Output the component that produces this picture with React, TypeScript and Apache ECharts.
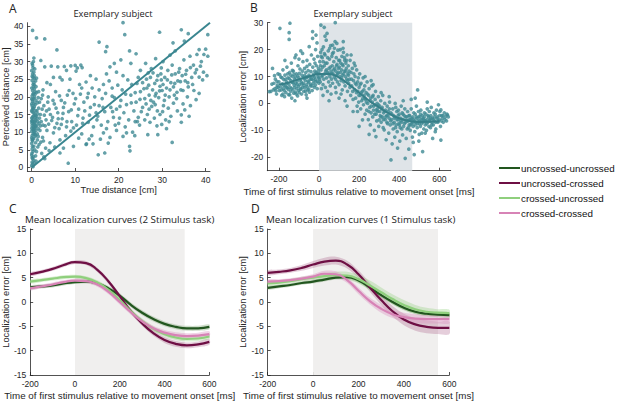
import React, { useEffect, useRef } from "react";
import * as echarts from "echarts";

// ---------- Panel A: perceived vs true distance (exemplary subject) ----------
const A_POINTS: number[][] = [
  [0,0.5],[0.1,1.5],[0.2,2.5],[0,3.5],[0.3,4.5],[0.1,5.2],[0.5,6],[0,6.8],[0.2,7.5],[0.4,8.2],[0.1,9],[0.6,9.6],[0,10.2],[0.3,10.8],[0.8,11.3],[0.1,11.8],[0.5,12.3],[0.2,12.9],[0.9,13.4],[0,14],[0.4,14.6],[0.7,15.2],[0.1,15.8],[0.3,16.5],[0.6,17.2],[0,18],[0.2,18.7],[0.5,19.5],[0.1,20.3],[0.4,21],[0.2,21.8],[0,22.5],[0.3,23.5],[0.1,24.6],[0.6,25.2],[0.2,26.5],[0,27.4],[0.3,28.3],[0.1,29.5],[0.5,31],[0.2,38.8],[0.8,8.8],[1.0,10.5],[1.2,12],[0.9,7],[1.1,14.5],[0.7,5],[1.3,9.5],[0.4,3],[1.5,11],[0.8,17.8],[1.0,19],[1.4,13],[0.6,22.3],[1.2,16],[0.9,24.5],[0.2,1],[0.5,2],[0.1,7.8],[0.3,13.7],[0.6,10],[0.4,11.5],[0.2,16.9],[0.7,12.7],[0.8,14.2],[1.6,21.5],[1.8,18.5],[1.1,25.3],[2,15],[2.2,13],[1.9,10.5],[2.5,8.5],[2.3,4],[2.8,3],[3,2.5],[3.2,5.5],[2.6,22],[2.1,30.3],[1.1,36.7],[3,36.4],
  [0.05,4],[0.15,6],[0.25,8],[0.35,9.5],[0.45,10.5],[0.55,11],[0.65,12],[0.75,13],[0.85,14.8],[0.95,16],[0.05,12.5],[0.15,13.2],[0.25,14.3],[0.35,15.6],[0.45,16.7],[0.55,18.2],[0.65,19.9],[0.75,20.7],[0.85,9.2],[0.95,11.7],[0.1,17.5],[0.2,19.2],[0.3,20.8],[0.4,22.8],[0.5,24],[0.6,26],[0.7,27.9],[0.2,29],[0.4,30],[0.1,25.8],[1.3,7.8],[1.5,8.8],[1.7,12.5],[1.2,13.8],[1.4,15.2],[1.6,16.8],[1.3,18.3],[1.5,19.8],[1.1,21.2],[1.0,22.9],[1.8,14],[2.0,11.8],[2.4,16.5],[2.2,19.5],[2.6,12],[2.9,14.8],[3.1,11.8],[3.4,16],[3.7,18.5],[3.9,12.3],[4.3,15],[4.6,13.3],[4.9,19],[5.3,11.3],[5.6,16.8],[6.1,13.8],[6.4,20.3],[6.8,12.2],[7.2,15.3],[7.6,18.3],[8.1,13],[8.6,21.8],[9.1,16.3],[9.6,11.2],[10.1,19.5],[10.6,14.7],[11.2,20.8],[11.7,12.5],[12.2,16],[12.8,19.8],[13.3,14.8],[13.9,22.5],[14.4,17.8],[0.3,0.2],[0.6,1.2],[0.9,3.3],[1.1,4.5],[1.4,5.8],[1.7,6.5],[2.1,7.2],[0.1,2.8],[1.0,1.8],[0.5,27],[0.3,25.5],[0.8,21.5],[0.6,23.4],[0.0,19.4],[0.0,16.1],[0.0,13.1],[0.0,8.4],[0.0,11.1],
  [3,28.5],[4.5,28.7],[6,28.5],[7.5,28.6],[9,28.8],[10,28.9],[10.5,28.2],[11.3,29],[11.6,28.3],[10.2,27.3],[8,27.5],[5,25.5],[6.5,25.5],[3.5,24],[4.3,23.5],[7,24.8],[8.8,25],[11,23.5],[12.5,24.2],[2.5,20.5],[3.8,20],[5.5,21.5],[6.8,19],[8.2,20.5],[9.5,21],[11.5,22.5],[13,21],[14.5,20],[2.8,17.5],[4,16.5],[5.2,18],[6,15.5],[7.3,17],[8.5,15.8],[9.8,18],[10.8,16.5],[12,18.5],[13.5,17],[14.8,15.5],[3.3,13.5],[4.8,14.2],[5.8,12.5],[7,13.8],[8,11.5],[9.2,13],[10.3,12],[11.8,14],[13,12.8],[14.2,11.5],[3.5,10.5],[5,9.8],[6.3,11],[7.8,9],[9,10.3],[2.7,7.5],[4.2,7],[6.5,7.8],[12.5,6.5],[11.5,9.5],[13.8,9],[15,13.5],[15.5,17.5],[5.8,33.3],[13.5,26],[14.8,25],[15.5,22],[16.2,19.5],[17,21],[16.5,23.5],[17.8,24.5],[18.5,22.5],[17.2,26.5],[18,28.5],[19,29.5],[20.5,30.5],[19.5,27],[21,26],[15.5,35.5],[17.3,34.2],[17,32.8],[21,41],[21.4,37.6],[22.5,33],[24,32.2],[22.8,29.5],
  [15.2,14.5],[16,12],[16.8,15.8],[17.5,13],[18.2,17],[18.8,14.2],[19.5,16.5],[20,12.5],[20.5,19],[21.2,15.5],[21.8,17.8],[22.3,13.5],[22.8,20.5],[23.5,16],[24,18.5],[24.5,14.2],[25,21.5],[25.5,17],[19,19.8],[20.8,22],[23,23.5],[16.5,9.8],[18,8.5],[19.5,10.5],[21.5,11.5],[23.2,10],[24.8,12],[17.6,6.9],[16.8,4.1],[15.3,3.6],[14.1,6.7],[12.6,6.7],[8.4,1.2],[6.5,4.1],[22.5,6],[21,8.8],[23.7,9],[26.7,9.3],[29,9.3],[32.3,7.1],[22.6,4.7],
  [25.5,24],[26,19.5],[26.5,22.5],[27,20.5],[27.3,25.5],[27.8,22],[28,18.5],[28.3,23.8],[28.6,21],[29,26],[29.2,19.8],[29.5,23],[29.8,24.8],[30,21.8],[30.3,17.5],[30.6,25.5],[31,22.5],[31.3,27.5],[31.6,20],[32,24],[32.3,29],[32.6,22.8],[33,26.5],[33.3,19.5],[33.6,24.5],[34,28],[34.3,22],[34.6,26],[35,30.5],[35.3,24.5],[35.6,27.5],[36,22.8],[36.4,31.5],[36.8,25.5],[37.2,29],[37.6,26.8],[38,32],[38.5,25.6],[38.5,21],[39,30],[39.5,27],[40,33.5],[40.5,31.5],[40.5,37.6],[36,37.9],[34.4,39],[29.4,38.3],[32.5,35.3],[35.1,35.8],[38.5,33.4],[34.4,14.9],[34.4,12.8],[33.5,16],[32,14.5],[30.8,13.5],[29.5,15],[28.2,14],[27,16.5],[26,13.5],[25.2,15.8],[31,11],[28.8,11.8],[27.5,28],[26.8,26.8],[30.2,30],[31.8,31.8],[33,33],[25,27.5],[24.5,25.5],[26.2,29.5],[28.5,30.8],[29.8,28.2],[32.8,20.5],[35.8,20],[37,23.5],[39.3,24.8],[34.8,18],[36.5,17.5],[30.5,19],[27.6,17.3],[26.3,18],[28.9,16],[31.4,16.8],
  [18.5,20.2],[19.8,23.3],[20.3,17.3],[21.6,20.8],[22.1,24.8],[22.9,18.3],[23.8,21.2],[24.2,23.8],[24.9,19.3],[25.8,22.3],[26.4,25],[26.9,23.3],[27.4,19],[27.9,26.8],[28.4,20.3],[28.8,24.7],[29.4,21.7],[29.7,26.5],[30.2,23.5],[30.7,20.5],[31.2,24.8],[31.8,22],[32.2,26.2],[32.9,23.8],[33.4,21.3],[33.8,27],[34.2,24.3],[34.8,21.8],[35.4,26.4],[35.9,24],[36.5,28.3],[37.3,21.8],[37.9,27.7],[38.8,28.7],[39.6,32],[40.3,26],[24.3,13],[26.6,15],[28.4,17.8],[30.1,15.8],[32.6,18.2],[35.2,16.3],[36.2,14.5],[37.8,19.2],[31.6,13],[29.9,12.2],[27.2,12.8],[20.2,14],[19.2,12],[17.2,11],[18.6,15.8],[16.4,17],[21.8,9.8],[23.8,13],[15.8,8],[13.2,8],[10.8,8.3],[9.6,6],[7.3,5.5],[5.3,5.8],[4,4.8]
];
const A_DIAG_X = [0, 41];
const A_DIAG_Y = [0, 41];
const A_X_TICKS = [0, 10, 20, 30, 40];
const A_Y_TICKS = [0, 5, 10, 15, 20, 25, 30, 35, 40];

// ---------- Panel B: localization error vs time (exemplary subject) ----------
const B_POINTS: number[][] = [
  [-240,4.5],[-232,13],[-248,4.4],[-225,7.5],[-220,5.5],[-218,9],[-212,3.5],[-208,6.8],[-205,11],[-200,8],[-198,4.8],[-195,27.9],[-192,6.2],[-190,9.8],[-186,3],[-183,7.3],[-180,12.5],[-178,5.5],[-175,8.8],[-172,2.5],[-170,10.5],[-168,6.5],[-165,4],[-162,8],[-160,13.5],[-158,5.8],[-155,9.5],[-152,3.3],[-150,7],[-149,26.3],[-149,23.8],[-145,29.8],[-147,11.5],[-144,6],[-142,4.5],[-140,8.5],[-138,15],[-136,2],[-134,7.8],[-132,10],[-130,5],[-128,12],[-126,3.8],[-124,6.8],[-122,9],[-120,17],[-118,4.2],[-116,7.5],[-115,18],[-113,11],[-111,5.5],[-109,8.2],[-107,2.8],[-105,14],[-103,6.3],[-101,9.5],[-99,4],[-97,7],[-95,12.8],[-93,5.2],[-91,19.5],[-89,8],[-87,3.5],[-85,10.5],[-82,18.6],[-82,6],[-80,15.5],[-78,7.5],[-76,4.5],[-74,9.2],[-72,13],[-70,5.8],[-68,8.5],[-66,11.5],[-64,3.2],[-62,7],[-60,16],[-58,9.8],[-56,5],[-54,12.2],[-52,7.8],[-50,10.5],[-49,21.1],[-48,4.2],[-46,14.5],[-44,8.8],[-42,6.5],[-40,11.8],[-38,18],[-36,9],[-34,4.8],[-32,26.7],[-32,24.2],[-31,13.5],[-29,7.5],[-27,10.8],[-25,16.5],[-23,6],[-21,12],[-19,9],[-17,20],[-15,25.4],[-15,8],[-13,14],[-11,11],[-9,5.5],[-7,17.5],[-5,10],[-3,13],[-1,7.5],[-10,22.5],[-60,2],[-120,1],[-180,3.5],[-210,6],
  [-235,7.2],[-228,5],[-222,10.3],[-215,4.7],[-210,8.2],[-203,6],[-196,10.7],[-188,5],[-184,9.5],[-176,6.8],[-173,4.8],[-167,9],[-163,6],[-159,7.5],[-156,11],[-153,5.2],[-148,9.2],[-146,3.2],[-141,10.5],[-137,5.6],[-133,12.3],[-129,7.7],[-125,10.8],[-121,6],[-117,9.8],[-114,3.5],[-110,7],[-106,10.2],[-102,4.8],[-98,11.2],[-94,8.7],[-90,5.5],[-86,7.3],[-83,12],[-79,9.7],[-75,6.7],[-71,10.3],[-67,4.5],[-63,9.8],[-59,6.2],[-55,8.3],[-51,5.3],[-47,10],[-43,7.2],[-39,9.2],[-35,6.5],[-30,10.2],[-26,8.5],[-22,9.8],[-18,6.8],[-14,11.5],[-8,8.3],[-4,12],[-2,9.5],[-170,16],[-100,16.5],[-60,13.8],[-20,15],
  [2,11],[4,15.5],[6,8],[8,19],[9.5,29.1],[10,12.5],[12,5.5],[14,10],[16,17],[18,13.5],[20,7],[22,21],[24,9],[26,28.3],[26,14],[28,11],[30,18],[32,6],[34,12],[36,23.5],[38,9.5],[40,15],[42,4.5],[44,11.5],[46,19.5],[48,8],[50,13],[52,16.5],[54,10],[56,6.5],[58,21.5],[60,12],[62,9],[64,17.5],[66,14],[68,21.7],[68,7.5],[70,11],[72,19],[74,15.5],[76,9.8],[78,13],[80,23],[81,30],[82,6],[84,12],[86,17],[88,10.5],[89,22.3],[90,14.5],[92,8],[94,19.8],[96,11.5],[98,16],[100,7],[102,13.5],[104,10],[106,20],[108,15],[110,8.5],[112,12.5],[114,17.5],[116,5],[118,10.5],[120,14],[121,23],[122,19],[124,8],[126,12],[128,16],[130,6.5],[132,10],[134,15],[136,13],[138,9],[140,18],[142,4.5],[144,11],[146,14],[148,7.5],[150,12],[60,3.5],[100,2],[130,1],[40,26],[30,25],[15,20],[120,20.5],
  [3,9],[7,14],[11,17.5],[17,10.5],[21,15.5],[27,18.5],[33,15],[37,12.5],[43,17],[47,11],[53,20.5],[57,13.5],[63,11.2],[67,18.5],[73,12.5],[77,20.5],[83,9],[87,14],[93,11],[97,13],[103,16],[107,11.5],[113,9.5],[117,14.5],[123,11],[127,17],[133,12],[137,16],[143,8.5],[147,10.5],[20,3],[50,1],[85,4],[110,3.5],
  [152,9],[155,16],[158,3],[160,11.5],[163,6.5],[166,13],[170,1.5],[172,8.5],[175,15],[178,5],[180,10],[183,2],[186,7],[188,12.5],[190,-1],[192,-3],[194,4.5],[196,9.5],[198,0.5],[200,6],[203,11],[206,3],[208,-2],[210,7.5],[213,1],[216,4.5],[217,-6.1],[220,9.5],[222,-0.5],[225,3],[228,6.5],[230,-4],[232,1.5],[235,4],[238,-2.5],[240,8],[243,0],[246,-6],[248,3],[250,5.5],[253,-1.5],[256,-8],[258,2],[260,-3.5],[263,6.5],[266,0.5],[268,-5],[270,3],[273,-1],[276,-10],[278,-4],[280,1.5],[282,4.5],[284,-12.3],[286,-2.5],[288,-6.5],[290,0],[293,-3],[296,2.5],[298,-8.5],[300,-6.1],[302,-1],[305,-4.5],[308,1],[310,-7],[313,-2],[316,-5],[318,3],[320,-9],[322,-3.5],[325,-9.8],[328,0],[330,-6],[332,-2.5],[335,-13.5],[338,-4.5],[340,-1],[342,-7.5],[345,-3],[348,-11],[350,-5.5],[352,0.5],[355,-8],[358,-3.5],[359,-21],[362,-6],[365,-15],[368,-2],[370,-9.5],[372,-4.5],[375,-7],[378,-12.5],[380,-5],[383,-1.5],[385,-8],[388,-3],[390,-10.5],[392,-16.6],[394,-6],[396,-2.5],[398,-7.5],[400,-4],[403,-14],[405,-9],[408,-5.5],[410,-1],[412,-7],[415,-3.5],[417,-11.7],[420,-6],[422,-8.5],[425,-4.5],[428,-2],[430,-20.4],[432,-7],[435,-13],[438,-5],[440,-9.5],[442,-3],[445,-6.5],[448,-17],[450,-8],[200,-8.5],[250,-11.5],[270,7],[310,4],[350,2.5],[380,0],[420,1],[180,14],[230,10],[260,8.5],[160,18],[140,-1],[170,-3],
  [154,6],[162,9],[168,4.5],[174,11],[181,7.5],[187,4],[193,8],[199,3],[205,7],[211,4],[218,1.8],[224,5],[229,2],[236,0.5],[242,3.5],[249,-3],[255,1],[261,-1],[267,2.5],[272,-2.5],[279,-0.5],[285,-4],[291,-2],[297,-0.5],[303,-3],[309,-5],[315,-1.5],[321,-6],[327,-3],[333,-5],[339,-7],[344,-4.5],[351,-2],[357,-6.5],[363,-4],[369,-7.5],[376,-5.5],[382,-9],[389,-6],[395,-4.5],[401,-8],[407,-6.5],[413,-9.5],[419,-4],[426,-7.5],[433,-5],[439,-6.5],[446,-9],[449,-4.5],
  [452,-4.5],[455,-10],[458,-6],[460,-2],[463,-7.5],[466,-12.5],[468,-5],[470,-8.5],[473,-3.5],[475,-19],[476,-6.5],[478,-10.5],[480,-4],[483,-7],[486,-1],[488,-5.5],[490,-9],[492,5],[494,-6.5],[496,-3],[498,-14],[500,-7.5],[503,-5],[506,-8.5],[508,-2.5],[510,-6],[513,-11],[515,-4.5],[517,-17.9],[518,-7],[520,-5.5],[523,-9.5],[526,-3.5],[528,-6.5],[530,-8],[533,-4],[536,-10],[538,-6],[540,-2],[543,-7],[546,-5],[548,-8.5],[550,-3],[553,-6],[556,-9],[558,-4.5],[560,-1.5],[563,-7],[566,-5.5],[567,-13],[570,-8],[573,-3.5],[576,-6.5],[580,-4],[583,-9.5],[586,-2.5],[590,-5],[593,-7],[596,-0.5],[600,-6],[603,-3],[606,-8.5],[608,-2.4],[608,-13.6],[612,-4.5],[616,-5.5],[620,-7],[625,-3.5],[630,-5],[636,-6.5],[641,-4.3],[645,-5],[460,1.5],[470,-14.5],[500,-11.5],[530,-11],[580,-10.5],[540,0.5],[480,2],
  [451,-6],[457,-8],[462,-5.5],[467,-7],[472,-6],[479,-8],[485,-5],[491,-7.5],[497,-5],[502,-6.5],[507,-4],[512,-7.5],[519,-6],[525,-5],[531,-6.5],[537,-7.5],[544,-4.5],[551,-6.5],[557,-5.5],[562,-8],[569,-6],[575,-5],[582,-7],[588,-5.5],[595,-6.5],[602,-4.5],[610,-6.5],[618,-4.5],[628,-6],[638,-4]
];
const B_FIT_X = [-200, -150, -100, -50, 0, 50, 100, 150, 200, 250, 300, 350, 400, 450, 500, 550, 600];
const B_FIT_Y = [7.0, 7.8, 9.0, 10.0, 10.9, 10.9, 9.6, 7.0, 4.0, 1.0, -1.5, -3.8, -5.5, -6.5, -6.9, -6.8, -6.6];
const B_X_TICKS = [-200, 0, 200, 400, 600];
const B_Y_TICKS = [-20, -10, 0, 10, 20, 30];
const B_SHADE = [0, 465];

// ---------- Panels C & D: mean localization curves ----------
const CURVE_X = [-200, -150, -100, -50, 0, 50, 100, 150, 200, 250, 300, 350, 400, 450, 500, 550, 600];
const NAMES = ["uncrossed-uncrossed", "uncrossed-crossed", "crossed-uncrossed", "crossed-crossed"];

const C_UU = [3.0, 3.2, 3.4, 3.8, 4.1, 4.2, 3.8, 2.8, 1.3, -0.6, -2.2, -3.5, -4.5, -5.1, -5.4, -5.4, -5.1];
const C_UC = [5.7, 6.2, 6.8, 7.6, 8.2, 8.0, 6.6, 4.2, 1.2, -1.9, -4.4, -6.4, -7.8, -8.6, -8.9, -8.7, -8.2];
const C_CU = [4.2, 4.5, 4.8, 5.1, 5.2, 4.9, 4.0, 2.5, 0.4, -1.9, -3.9, -5.5, -6.6, -7.3, -7.6, -7.5, -7.1];
const C_CC = [2.8, 3.2, 3.6, 4.1, 4.4, 4.3, 3.6, 2.1, 0.0, -2.1, -4.0, -5.4, -6.3, -6.8, -7.0, -6.9, -6.6];
const C_UU_CI = [0.4, 0.4, 0.4, 0.4, 0.4, 0.4, 0.4, 0.45, 0.5, 0.5, 0.5, 0.5, 0.5, 0.5, 0.5, 0.5, 0.5];
const C_UC_CI = [0.4, 0.4, 0.4, 0.4, 0.4, 0.4, 0.45, 0.5, 0.5, 0.5, 0.5, 0.55, 0.6, 0.6, 0.6, 0.6, 0.6];
const C_CU_CI = [0.4, 0.4, 0.4, 0.4, 0.4, 0.4, 0.45, 0.5, 0.5, 0.5, 0.5, 0.5, 0.5, 0.5, 0.5, 0.5, 0.5];
const C_CC_CI = [0.4, 0.4, 0.4, 0.4, 0.4, 0.4, 0.45, 0.5, 0.5, 0.5, 0.5, 0.5, 0.55, 0.6, 0.6, 0.6, 0.6];
const C_SHADE = [0, 490];

const D_UU = [2.9, 3.2, 3.5, 3.9, 4.2, 4.6, 5.0, 5.1, 4.4, 3.0, 1.4, 0.0, -1.2, -2.0, -2.4, -2.6, -2.7];
const D_UC = [6.0, 6.2, 6.5, 7.0, 7.7, 8.3, 8.5, 7.7, 5.7, 3.0, 0.4, -1.9, -3.6, -4.6, -5.1, -5.3, -5.3];
const D_CU = [3.8, 4.0, 4.3, 4.7, 5.0, 5.3, 5.5, 5.4, 4.7, 3.4, 2.0, 0.6, -0.6, -1.5, -2.0, -2.2, -2.3];
const D_CC = [4.2, 4.3, 4.5, 4.8, 5.2, 5.8, 5.7, 4.5, 2.3, 0.2, -1.4, -2.5, -3.1, -3.4, -3.5, -3.5, -3.5];
const D_UU_CI = [0.35, 0.35, 0.35, 0.35, 0.4, 0.4, 0.4, 0.45, 0.45, 0.5, 0.5, 0.5, 0.5, 0.5, 0.55, 0.55, 0.55];
const D_UC_CI = [0.5, 0.5, 0.5, 0.6, 0.7, 0.8, 0.8, 0.8, 0.8, 0.9, 1.0, 1.1, 1.2, 1.3, 1.3, 1.3, 1.3];
const D_CU_CI = [0.5, 0.5, 0.5, 0.5, 0.5, 0.6, 0.7, 0.8, 0.9, 1.0, 1.0, 1.0, 1.0, 0.9, 0.8, 0.7, 0.7];
const D_CC_CI = [0.4, 0.4, 0.4, 0.45, 0.5, 0.6, 0.6, 0.6, 0.7, 0.7, 0.8, 0.8, 0.9, 0.9, 0.9, 0.9, 0.9];
const D_SHADE = [0, 550];

const LINE_COLORS = ["#22561f", "#6e0f44", "#8fcf7d", "#d783b6"];
const BAND_COLORS = [
  "rgba(120,160,110,0.35)",
  "rgba(150,60,110,0.25)",
  "rgba(150,210,130,0.35)",
  "rgba(220,150,195,0.4)",
];

const TEAL = "#3f8a93";
const AXIS_COLOR = "#262626";
const SANS = "Liberation Sans";
const TITLE_FONT = "Open Sans";

function valueAxis(extra: any, customTicks?: number[]) {
  const label: any = { color: AXIS_COLOR, fontSize: 8.5, fontFamily: SANS, margin: 4 };
  const tick: any = { show: true, inside: true, length: 3, lineStyle: { color: AXIS_COLOR, width: 0.8 } };
  if (customTicks) {
    label.customValues = customTicks;
    tick.customValues = customTicks;
  }
  return {
    type: "value",
    axisLine: { show: true, onZero: false, lineStyle: { color: AXIS_COLOR, width: 0.8 } },
    axisTick: tick,
    axisLabel: label,
    splitLine: { show: false },
    nameLocation: "middle",
    nameTextStyle: { color: AXIS_COLOR, fontSize: 9.3, fontFamily: SANS },
    ...extra,
  };
}

function curveSeries(axisIndex: number, curves: number[][], cis: number[][], shade: number[]) {
  const out: any[] = [];
  curves.forEach((vals, k) => {
    const band: any = {
      type: "custom",
      name: "band_" + axisIndex + "_" + k,
      xAxisIndex: axisIndex,
      yAxisIndex: axisIndex,
      data: [[CURVE_X[0], vals[0]]],
      silent: true,
      clip: true,
      z: 2,
      renderItem: (_params: any, api: any) => {
        const upper = CURVE_X.map((x, i) => api.coord([x, vals[i] + cis[k][i]]));
        const lower = CURVE_X.map((x, i) => api.coord([x, vals[i] - cis[k][i]])).reverse();
        return {
          type: "polygon",
          shape: { points: upper.concat(lower), smooth: 0.3 },
          style: { fill: BAND_COLORS[k] },
        };
      },
    };
    if (k === 0) {
      band.markArea = {
        silent: true,
        z: 1,
        itemStyle: { color: "#f0efee" },
        data: [[{ xAxis: shade[0] }, { xAxis: shade[1] }]],
      };
    }
    out.push(band);
    out.push({
      type: "line",
      name: NAMES[k],
      xAxisIndex: axisIndex,
      yAxisIndex: axisIndex,
      data: vals.map((v, i) => [CURVE_X[i], v]),
      smooth: 0.5,
      showSymbol: false,
      color: LINE_COLORS[k],
      lineStyle: { color: LINE_COLORS[k], width: 2.2 },
      z: 3,
    });
  });
  return out;
}

export default function App() {
  const ref = useRef<HTMLDivElement>(null);
  useEffect(() => {
    if (!ref.current) return;
    const chart = echarts.init(ref.current, undefined, { renderer: "svg" });
    const timeName = "Time of first stimulus relative to movement onset [ms]";
    const letterStyle = { fontSize: 12, fontWeight: "normal", color: "#222", fontFamily: TITLE_FONT };
    const subStyle = { fontSize: 9.3, fontWeight: "normal", color: "#222", fontFamily: TITLE_FONT };
    const meanStyle = { fontSize: 9.8, fontWeight: "normal", color: "#222", fontFamily: TITLE_FONT };
    const timeNameStyle = { color: AXIS_COLOR, fontSize: 9.8, fontFamily: SANS };
    const option: any = {
      animation: false,
      backgroundColor: "#ffffff",
      grid: [
        { left: 27.3, top: 22.7, width: 182.7, height: 148.3 },
        { left: 267.3, top: 22.7, width: 183.4, height: 148 },
        { left: 27.7, top: 229, width: 181.6, height: 146 },
        { left: 267.7, top: 229, width: 181.6, height: 146 },
      ],
      title: [
        { text: "A", left: 9, top: 2, padding: 0, textStyle: letterStyle },
        { text: "B", left: 250, top: 1, padding: 0, textStyle: letterStyle },
        { text: "C", left: 9, top: 202, padding: 0, textStyle: letterStyle },
        { text: "D", left: 251, top: 202, padding: 0, textStyle: letterStyle },
        { text: "Exemplary subject", left: 113, top: 9, padding: 0, textAlign: "center", textStyle: subStyle },
        { text: "Exemplary subject", left: 353, top: 9, padding: 0, textAlign: "center", textStyle: subStyle },
        { text: "Mean localization curves (2 Stimulus task)", left: 25, top: 214.5, padding: 0, textStyle: meanStyle },
        { text: "Mean localization curves (1 Stimulus task)", left: 266, top: 214.5, padding: 0, textStyle: meanStyle },
      ],
      legend: {
        orient: "vertical",
        left: 499,
        top: 162,
        padding: 0,
        data: NAMES,
        icon: "rect",
        itemWidth: 21,
        itemHeight: 2,
        itemGap: 3,
        textStyle: { fontSize: 9.8, fontFamily: SANS, color: "#111", lineHeight: 12, padding: [0, 0, 0, -4] },
        selectedMode: false,
      },
      xAxis: [
        valueAxis({ gridIndex: 0, min: -1, max: 41, name: "True distance [cm]", nameGap: 14 }, A_X_TICKS),
        valueAxis({ gridIndex: 1, min: -258, max: 657, name: timeName, nameGap: 15.5, nameTextStyle: timeNameStyle }, B_X_TICKS),
        valueAxis({ gridIndex: 2, min: -200, max: 600, interval: 200, name: timeName, nameGap: 15, nameTextStyle: timeNameStyle }),
        valueAxis({ gridIndex: 3, min: -200, max: 600, interval: 200, name: timeName, nameGap: 15, nameTextStyle: timeNameStyle }),
      ],
      yAxis: [
        valueAxis({ gridIndex: 0, min: -1, max: 41, name: "Perceived distance [cm]", nameGap: 14 }, A_Y_TICKS),
        valueAxis({ gridIndex: 1, min: -25, max: 30, name: "Localization error [cm]", nameGap: 17 }, B_Y_TICKS),
        valueAxis({ gridIndex: 2, min: -15, max: 15, interval: 5, name: "Localization error [cm]", nameGap: 16 }),
        valueAxis({ gridIndex: 3, min: -15, max: 15, interval: 5, name: "Localization error [cm]", nameGap: 16 }),
      ],
      series: [
        {
          type: "scatter",
          name: "A_points",
          xAxisIndex: 0,
          yAxisIndex: 0,
          data: A_POINTS,
          symbolSize: 3.7,
          itemStyle: { color: TEAL },
          silent: true,
          z: 2,
        },
        {
          type: "line",
          name: "A_diag",
          xAxisIndex: 0,
          yAxisIndex: 0,
          data: A_DIAG_X.map((x, i) => [x, A_DIAG_Y[i]]),
          showSymbol: false,
          lineStyle: { color: "#3a8690", width: 2 },
          silent: true,
          z: 3,
        },
        {
          type: "scatter",
          name: "B_points",
          xAxisIndex: 1,
          yAxisIndex: 1,
          data: B_POINTS,
          symbolSize: 3.7,
          itemStyle: { color: TEAL },
          silent: true,
          z: 2,
          markArea: {
            silent: true,
            z: 1,
            itemStyle: { color: "#dfe4e8" },
            data: [[{ xAxis: B_SHADE[0] }, { xAxis: B_SHADE[1] }]],
          },
        },
        {
          type: "line",
          name: "B_fit",
          xAxisIndex: 1,
          yAxisIndex: 1,
          data: B_FIT_X.map((x, i) => [x, B_FIT_Y[i]]),
          smooth: 0.5,
          showSymbol: false,
          lineStyle: { color: "#367f88", width: 2 },
          silent: true,
          z: 3,
        },
        ...curveSeries(2, [C_UU, C_UC, C_CU, C_CC], [C_UU_CI, C_UC_CI, C_CU_CI, C_CC_CI], C_SHADE),
        ...curveSeries(3, [D_UU, D_UC, D_CU, D_CC], [D_UU_CI, D_UC_CI, D_CU_CI, D_CC_CI], D_SHADE),
      ],
    };
    chart.setOption(option);
    return () => chart.dispose();
  }, []);
  return <div ref={ref} style={{ position: "absolute", left: 0, top: 0, width: 617, height: 403 }} />;
}
